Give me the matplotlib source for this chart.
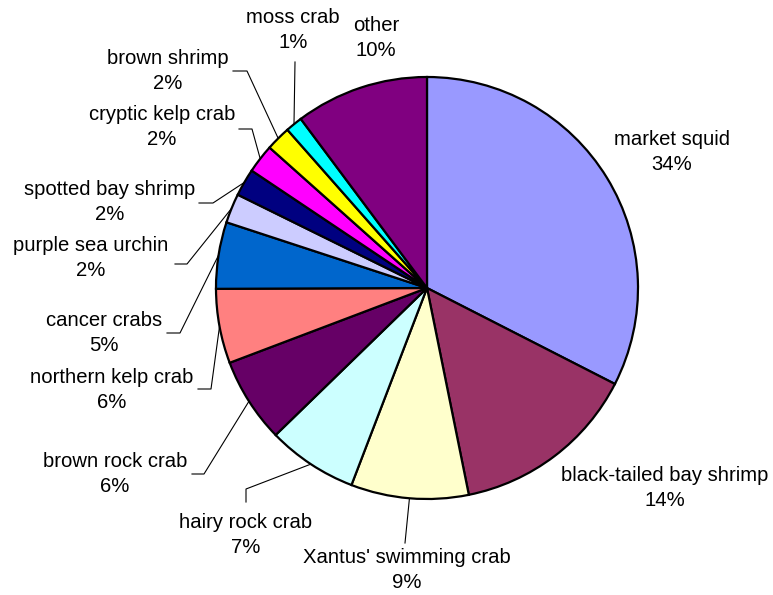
import matplotlib
matplotlib.use('Agg')
import matplotlib.pyplot as plt
import numpy as np

# ---------------- data ----------------
categories = ["market squid", "black-tailed bay shrimp", "Xantus' swimming crab",
              "hairy rock crab", "brown rock crab", "northern kelp crab",
              "cancer crabs", "purple sea urchin", "spotted bay shrimp",
              "cryptic kelp crab", "brown shrimp", "moss crab", "other"]
shares = [32.5, 14.3, 9.0, 6.9, 6.5, 5.7, 5.1, 2.25, 2.1, 2.2, 1.9, 1.3, 10.2]
pct_labels = ["34%", "14%", "9%", "7%", "6%", "6%", "5%", "2%", "2%", "2%",
              "2%", "1%", "10%"]
colors = ["#9999FF", "#993366", "#FFFFCC", "#CCFFFF", "#660066", "#FF8080",
          "#0066CC", "#CCCCFF", "#000080", "#FF00FF", "#FFFF00", "#00FFFF",
          "#800080"]

# ---------------- layout (pixel coordinates) ----------------
W, H = 773, 595
CX, CY, R = 427, 288, 211
label_pos = [(672, 152), (665, 488), (407, 570), (246, 535), (115, 474),
             (112, 390), (104, 333), (91, 258), (110, 202), (162, 127),
             (168, 71), (293, 30), (376, 38)]
leader_pts = [None, None, [(405, 543)], [(246, 502), (246, 489)],
              [(192, 474), (204, 474)], [(198, 389), (211, 389)],
              [(167, 333), (180, 333)], [(175, 264), (187, 264)],
              [(199, 203), (213, 203)], [(239, 129), (252, 129)],
              [(233, 71), (247, 71)], [(295, 62)], None]

fig = plt.figure(figsize=(W / 100, H / 100), dpi=100)
ax = fig.add_axes([0, 0, 1, 1])

wedges, _ = ax.pie(shares, colors=colors, startangle=-90, counterclock=True,
                   center=(CX, CY), radius=R,
                   wedgeprops=dict(edgecolor='black', linewidth=1.6))
ax.set_xlim(0, W)
ax.set_ylim(H, 0)
ax.set_aspect('equal')
ax.axis('off')

for i, w in enumerate(wedges):
    lx, ly = label_pos[i]
    ax.text(lx, ly, f"{categories[i]}\n{pct_labels[i]}", ha='center',
            va='center', fontsize=14.6, family='Liberation Sans',
            linespacing=1.45, color='black')
    if leader_pts[i] is not None:
        th = np.deg2rad((w.theta1 + w.theta2) / 2)
        ex, ey = CX + R * np.cos(th), CY + R * np.sin(th)
        xs = [p[0] for p in leader_pts[i]] + [ex]
        ys = [p[1] for p in leader_pts[i]] + [ey]
        ax.plot(xs, ys, color='black', lw=0.8, zorder=0.5)

fig.savefig('out.png', dpi=100)
